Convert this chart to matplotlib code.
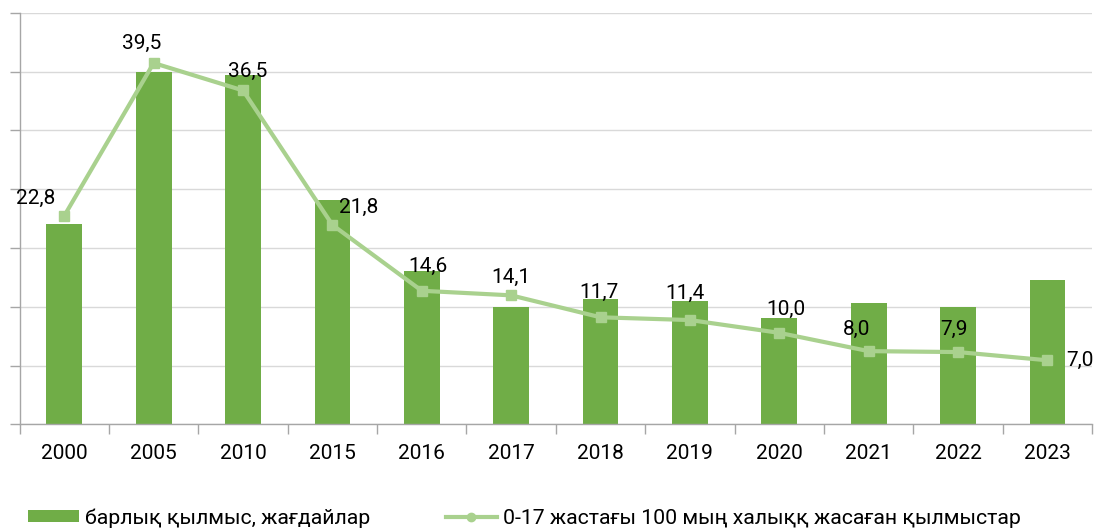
import numpy as np
import matplotlib.pyplot as plt
from matplotlib.lines import Line2D
from matplotlib.patches import Patch

plt.rcParams['font.family'] = ['Roboto', 'DejaVu Sans']

years = ['2000', '2005', '2010', '2015', '2016', '2017',
         '2018', '2019', '2020', '2021', '2022', '2023']
# total crimes, cases
crimes = [1700, 2995, 2970, 1905, 1300, 1000, 1065, 1050, 905, 1035, 995, 1225]
# crimes per 100 thousand population aged 0-17
rate = [22.8, 39.5, 36.5, 21.8, 14.6, 14.1, 11.7, 11.4, 10.0, 8.0, 7.9, 7.0]

# label offsets in pixels (dx, dy) relative to the line markers
label_dx = [-29, -12, 5, 26, 6, 0, -2, -5, 7, -12, -4, 33]
label_dy = [17, 20, 19, 18, 24, 18, 25, 27, 23, 22, 23, 0]

bar_color = '#70AD47'
line_color = '#A9D18E'

fig = plt.figure(figsize=(11.02, 5.3), dpi=100)
ax = fig.add_axes([0.0178, 0.1994, 0.9732, 0.7766])
x = np.arange(len(years))

ax.bar(x, crimes, width=0.4, color=bar_color, zorder=2)
ax.set_xlim(-0.5, len(years) - 0.5)
ax.set_ylim(0, 3500)
ax.set_yticks(np.arange(0, 3501, 500))
ax.set_yticklabels([])
ax.yaxis.grid(True, color='#D9D9D9', linewidth=1)
ax.set_axisbelow(True)

ax.set_xticks(x)
ax.set_xticklabels(years, fontsize=15)
ax.set_xticks(np.arange(-0.5, len(years)), minor=True)
ax.tick_params(axis='x', which='major', length=0, pad=14)
ax.tick_params(axis='x', which='minor', length=7, color='#A6A6A6', width=1)
ax.tick_params(axis='y', length=7, color='#A6A6A6', width=1)
for s in ['top', 'right']:
    ax.spines[s].set_visible(False)
for s in ['left', 'bottom']:
    ax.spines[s].set_color('#A6A6A6')
    ax.spines[s].set_linewidth(1)

ax2 = ax.twinx()
ax2.set_ylim(0, 45)
ax2.axis('off')
ax2.plot(x, rate, color=line_color, linewidth=3, marker='s', markersize=7,
         zorder=3)
for xi, v, dx, dy in zip(x, rate, label_dx, label_dy):
    ax2.annotate(f'{v:.1f}'.replace('.', ','), (xi, v),
                 xytext=(dx * 0.72, dy * 0.72), textcoords='offset points',
                 ha='center', va='center', fontsize=15, color='black')

handles = [Patch(facecolor=bar_color),
           Line2D([], [], color=line_color, linewidth=3, marker='o', markersize=6)]
fig.legend(handles, ['барлық қылмыс, жағдайлар',
                     '0-17 жастағы 100 мың халыққ жасаған қылмыстар'],
           loc='lower left', bbox_to_anchor=(0.008, -0.032), ncol=2,
           frameon=False, fontsize=15.3, handlelength=2.4, handleheight=0.52,
           handletextpad=0.28, columnspacing=3.55)

fig.savefig('out.png', dpi=100)
